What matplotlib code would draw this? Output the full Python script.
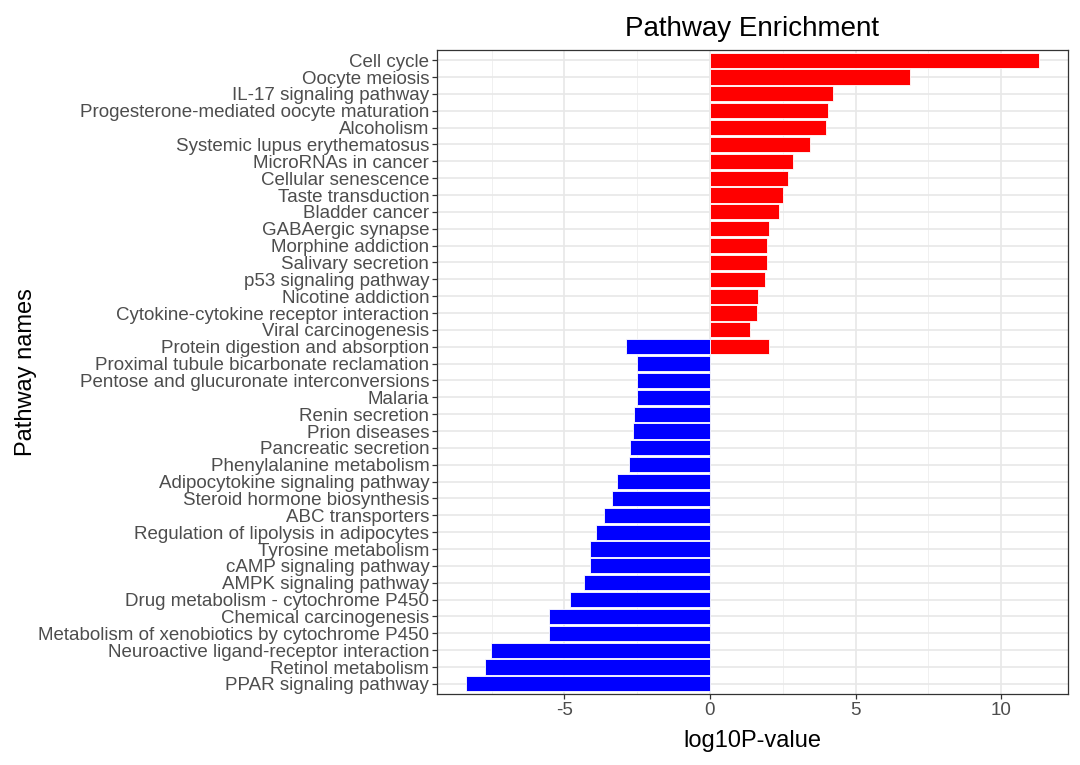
import numpy as np
import matplotlib
matplotlib.use("Agg")
import matplotlib.pyplot as plt
from matplotlib.ticker import MultipleLocator

plt.rcParams['font.family'] = ['Liberation Sans', 'DejaVu Sans']

# pathways, top to bottom as in the picture
pathways = [
    "Cell cycle", "Oocyte meiosis", "IL-17 signaling pathway",
    "Progesterone-mediated oocyte maturation", "Alcoholism",
    "Systemic lupus erythematosus", "MicroRNAs in cancer",
    "Cellular senescence", "Taste transduction", "Bladder cancer",
    "GABAergic synapse", "Morphine addiction", "Salivary secretion",
    "p53 signaling pathway", "Nicotine addiction",
    "Cytokine-cytokine receptor interaction", "Viral carcinogenesis",
    "Protein digestion and absorption",
    "Proximal tubule bicarbonate reclamation",
    "Pentose and glucuronate interconversions", "Malaria",
    "Renin secretion", "Prion diseases", "Pancreatic secretion",
    "Phenylalanine metabolism", "Adipocytokine signaling pathway",
    "Steroid hormone biosynthesis", "ABC transporters",
    "Regulation of lipolysis in adipocytes", "Tyrosine metabolism",
    "cAMP signaling pathway", "AMPK signaling pathway",
    "Drug metabolism - cytochrome P450", "Chemical carcinogenesis",
    "Metabolism of xenobiotics by cytochrome P450",
    "Neuroactive ligand-receptor interaction", "Retinol metabolism",
    "PPAR signaling pathway",
]

# up-regulated (red) bars
up_names = pathways[:18]
up_values = [11.31, 6.86, 4.23, 4.05, 3.98, 3.45, 2.84, 2.67, 2.50, 2.36,
             2.03, 1.95, 1.95, 1.90, 1.65, 1.62, 1.36, 2.03]

# down-regulated (blue) bars
down_names = pathways[17:]
down_values = [-2.88, -2.50, -2.50, -2.50, -2.60, -2.64, -2.76, -2.77,
               -3.20, -3.37, -3.65, -3.93, -4.12, -4.13, -4.32, -4.79,
               -5.54, -5.54, -7.51, -7.73, -8.39]

fig = plt.figure(figsize=(10.8, 7.65), dpi=100)
ax = fig.add_axes([0.4046, 0.0928, 0.9889 - 0.4046, 0.9346 - 0.0928])

n = len(pathways)
ypos = {name: n - 1 - i for i, name in enumerate(pathways)}

ax.barh([ypos[p] for p in up_names], up_values, height=0.9,
        color="#FF0000", edgecolor="white", linewidth=0.6, zorder=3)
ax.barh([ypos[p] for p in down_names], down_values, height=0.9,
        color="#0000FF", edgecolor="white", linewidth=0.6, zorder=3)

# ggplot-like 5% expansion
allv = up_values + down_values
lo, hi = min(allv), max(allv)
pad = (hi - lo) * 0.05
ax.set_xlim(lo - pad, hi + pad)
ax.set_ylim(-0.6, n - 0.4)

ax.set_yticks(range(n))
ax.set_yticklabels(pathways[::-1])
ax.xaxis.set_major_locator(MultipleLocator(5))
ax.xaxis.set_minor_locator(MultipleLocator(2.5))
ax.set_xticks([-5, 0, 5, 10])
ax.set_xticklabels(["-5", "0", "5", "10"])

ax.grid(True, which="major", color="#E8E8E8", linewidth=1.2, zorder=0)
ax.grid(True, which="minor", axis="x", color="#F0F0F0", linewidth=0.7, zorder=0)
ax.set_axisbelow(True)

for s in ax.spines.values():
    s.set_color("#333333")
    s.set_linewidth(0.9)

ax.tick_params(axis="both", which="major", length=3.5, width=0.9,
               color="#333333", labelcolor="#4D4D4D", labelsize=13.5, pad=2)
ax.tick_params(axis="x", which="minor", length=0)

ax.set_xlabel("log10P-value", fontsize=17, color="black", labelpad=8)
ax.set_ylabel("Pathway names", fontsize=17, color="black", labelpad=1)
ax.set_title("Pathway Enrichment", fontsize=20, color="black", pad=10)

fig.savefig("out.png", dpi=100)
